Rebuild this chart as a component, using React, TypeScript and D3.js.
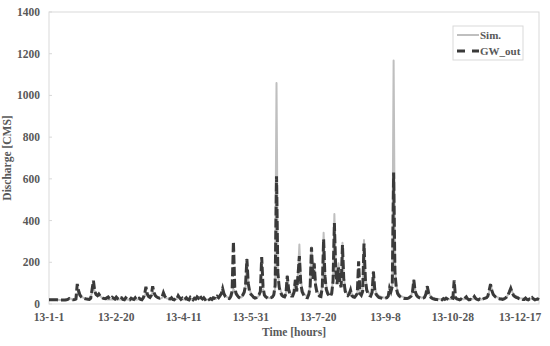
import React from 'react';
import * as d3 from 'd3';

// daily values, 2013-01-01 .. 2013-12-31
const simValues = [
  // Jan
  20, 20, 20, 20, 20, 20, 20, 19, 19, 19, 19, 19, 19, 20, 24, 30, 26, 22, 21, 21, 22, 45, 70, 50, 38, 32, 28, 25, 24, 23, 22,
  // Feb
  30, 60, 85, 58, 44, 40, 45, 38, 32, 28, 26, 24, 22, 22, 21, 21, 21, 22, 20, 20, 21, 21, 22, 20, 20, 20, 21, 21,
  // Mar
  20, 20, 21, 22, 22, 21, 20, 22, 24, 22, 21, 25, 35, 55, 40, 32, 30, 35, 60, 48, 38, 33, 30, 28, 27, 30, 40, 32, 28, 26, 25,
  // Apr
  24, 23, 22, 22, 22, 24, 30, 26, 23, 22, 21, 21, 22, 21, 21, 22, 21, 21, 22, 22, 24, 26, 28, 26, 24, 23, 22, 22, 22, 22,
  // May
  22, 24, 22, 26, 24, 30, 28, 35, 45, 72, 55, 40, 34, 30, 28, 30, 45, 72, 60, 45, 38, 34, 30, 32, 38, 50, 80, 215, 110, 70, 52,
  // Jun
  42, 36, 32, 30, 34, 40, 55, 62, 70, 48, 40, 34, 30, 28, 30, 32, 40, 80, 1060, 160, 90, 65, 50, 42, 38, 50, 135, 80, 55, 45,
  // Jul
  40, 60, 115, 70, 150, 285, 120, 75, 55, 45, 40, 38, 50, 90, 272, 140, 195, 110, 70, 55, 48, 45, 90, 342, 150, 85, 60, 50, 45, 60, 120,
  // Aug
  431, 180, 110, 195, 120, 90, 294, 130, 75, 55, 48, 55, 67, 48, 40, 38, 42, 55, 80, 60, 50, 70, 307, 140, 80, 60, 50, 45, 60, 155, 80,
  // Sep
  55, 45, 40, 36, 34, 32, 30, 30, 32, 40, 60, 70, 90, 1168, 170, 90, 60, 48, 40, 36, 34, 32, 30, 30, 30, 34, 40, 60, 115, 70,
  // Oct
  50, 40, 35, 32, 30, 30, 34, 50, 85, 60, 42, 35, 30, 28, 26, 25, 24, 24, 23, 23, 24, 24, 25, 24, 23, 24, 26, 30, 40, 34, 28,
  // Nov
  25, 24, 24, 23, 23, 24, 30, 26, 24, 23, 22, 24, 32, 28, 25, 24, 23, 23, 22, 24, 26, 28, 35, 60, 95, 70, 50, 42, 36, 32,
  // Dec
  30, 28, 27, 26, 26, 28, 35, 45, 60, 75, 60, 48, 42, 38, 34, 30, 28, 27, 26, 25, 25, 24, 24, 23, 24, 28, 26, 24, 23, 23, 22,
];

const gwValues = [
  // Jan
  20, 20, 20, 20, 20, 20, 20, 19, 19, 19, 19, 19, 19, 20, 22, 26, 24, 21, 20, 21, 24, 96, 62, 42, 34, 30, 27, 25, 24, 23, 22,
  // Feb
  28, 70, 112, 60, 45, 40, 48, 38, 32, 28, 26, 25, 30, 34, 26, 24, 32, 28, 24, 33, 26, 22, 32, 30, 22, 20, 30, 24,
  // Mar
  22, 20, 28, 24, 22, 30, 20, 26, 28, 22, 20, 30, 45, 83, 48, 36, 32, 42, 85, 55, 40, 34, 30, 28, 30, 34, 54, 38, 30, 26, 25,
  // Apr
  24, 30, 22, 20, 28, 24, 40, 30, 22, 28, 20, 24, 30, 22, 20, 32, 26, 20, 28, 24, 34, 28, 40, 30, 24, 30, 22, 26, 30, 22,
  // May
  26, 22, 30, 28, 24, 36, 30, 40, 50, 74, 48, 36, 30, 28, 26, 36, 60, 299, 80, 50, 40, 32, 28, 36, 44, 56, 90, 215, 100, 60, 46,
  // Jun
  40, 32, 28, 30, 36, 44, 60, 225, 83, 42, 34, 30, 26, 28, 30, 34, 44, 90, 612, 150, 80, 56, 42, 36, 34, 48, 135, 70, 46, 38,
  // Jul
  38, 56, 115, 60, 140, 230, 100, 60, 45, 36, 32, 30, 46, 85, 272, 120, 195, 90, 56, 44, 38, 36, 80, 310, 130, 70, 50, 40, 36, 50, 110,
  // Aug
  388, 160, 95, 175, 105, 80, 283, 115, 62, 46, 40, 48, 67, 40, 34, 32, 40, 50, 205, 50, 42, 60, 290, 120, 66, 50, 42, 38, 55, 155, 68,
  // Sep
  46, 38, 32, 30, 28, 26, 26, 28, 30, 38, 77, 60, 85, 630, 150, 76, 50, 40, 34, 30, 28, 26, 26, 26, 28, 32, 38, 56, 115, 60,
  // Oct
  42, 34, 30, 28, 26, 28, 32, 48, 85, 52, 36, 30, 26, 24, 22, 22, 20, 20, 22, 20, 26, 22, 28, 24, 20, 24, 30, 28, 113, 30, 24,
  // Nov
  22, 20, 24, 20, 22, 28, 34, 24, 20, 22, 20, 26, 36, 26, 22, 20, 24, 20, 22, 26, 28, 30, 38, 66, 95, 64, 46, 38, 32, 28,
  // Dec
  26, 24, 24, 22, 24, 28, 34, 44, 58, 75, 56, 42, 36, 32, 30, 26, 24, 26, 22, 22, 28, 22, 20, 24, 22, 30, 24, 20, 22, 24, 20,
];

const xTickLabels = ['13-1-1', '13-2-20', '13-4-11', '13-5-31', '13-7-20', '13-9-8', '13-10-28', '13-12-17'];
const yTicks = [0, 200, 400, 600, 800, 1000, 1200, 1400];

const W = 550;
const H = 346;
const margin = { top: 12, right: 11, bottom: 42, left: 49 };
const font = '"Liberation Serif", "Times New Roman", serif';
const textColor = '#595959';

export default function App() {
  const innerW = W - margin.left - margin.right;
  const innerH = H - margin.top - margin.bottom;

  const start = new Date(2013, 0, 1);
  const dayDate = (i: number) => d3.timeDay.offset(start, i);
  const parse = d3.timeParse('%y-%m-%d');

  const x = d3.scaleTime()
    .domain([start, new Date(2013, 11, 31)])
    .range([0, innerW]);
  const y = d3.scaleLinear().domain([0, 1400]).range([innerH, 0]);

  const line = d3.line<number>()
    .x((_, i) => x(dayDate(i)))
    .y(d => y(d));

  return (
    <div style={{ position: 'absolute', left: 0, top: 0 }}>
      <svg width={W} height={H} style={{ display: 'block', background: '#fff' }}>
        <g transform={`translate(${margin.left},${margin.top})`}>
          <rect x={0} y={0} width={innerW} height={innerH} fill="none" stroke="#d9d9d9" strokeWidth={1} />
          {yTicks.map(t => (
            <g key={t} transform={`translate(0,${y(t)})`}>
              <line x1={0} x2={3} stroke="#d9d9d9" />
              <text x={-9} dy="0.35em" textAnchor="end" fontFamily={font} fontWeight="bold" fontSize={11.5} fill={textColor}>{t}</text>
            </g>
          ))}
          {xTickLabels.map(l => (
            <text key={l} x={x(parse(l) as Date)} y={innerH + 17} textAnchor="middle" fontFamily={font} fontWeight="bold" fontSize={11.5} fill={textColor}>{l}</text>
          ))}
          <path d={line(simValues) || ''} fill="none" stroke="#bfbfbf" strokeWidth={2} strokeLinejoin="round" />
          <path d={line(gwValues) || ''} fill="none" stroke="#3a3a3a" strokeWidth={3} strokeDasharray="9,3" />

          <text x={innerW / 2} y={innerH + 32} textAnchor="middle" fontFamily={font} fontWeight="bold" fontSize={11.5} fill={textColor}>Time [hours]</text>
          <text transform={`translate(${-38},${innerH / 2}) rotate(-90)`} textAnchor="middle" fontFamily={font} fontWeight="bold" fontSize={11.5} fill={textColor}>Discharge [CMS]</text>

          <g transform={`translate(${453 - margin.left},${26 - margin.top})`}>
            <rect x={0} y={0} width={70} height={34} fill="#fff" stroke="#d9d9d9" />
            <line x1={4} x2={26} y1={9} y2={9} stroke="#bfbfbf" strokeWidth={2} />
            <text x={27} y={9} dy="0.35em" fontFamily={font} fontWeight="bold" fontSize={11} fill={textColor}>Sim.</text>
            <line x1={4} x2={26} y1={25} y2={25} stroke="#3a3a3a" strokeWidth={3} strokeDasharray="8,7" />
            <text x={27} y={25} dy="0.35em" fontFamily={font} fontWeight="bold" fontSize={11} fill={textColor}>GW_out</text>
          </g>
        </g>
      </svg>
    </div>
  );
}
